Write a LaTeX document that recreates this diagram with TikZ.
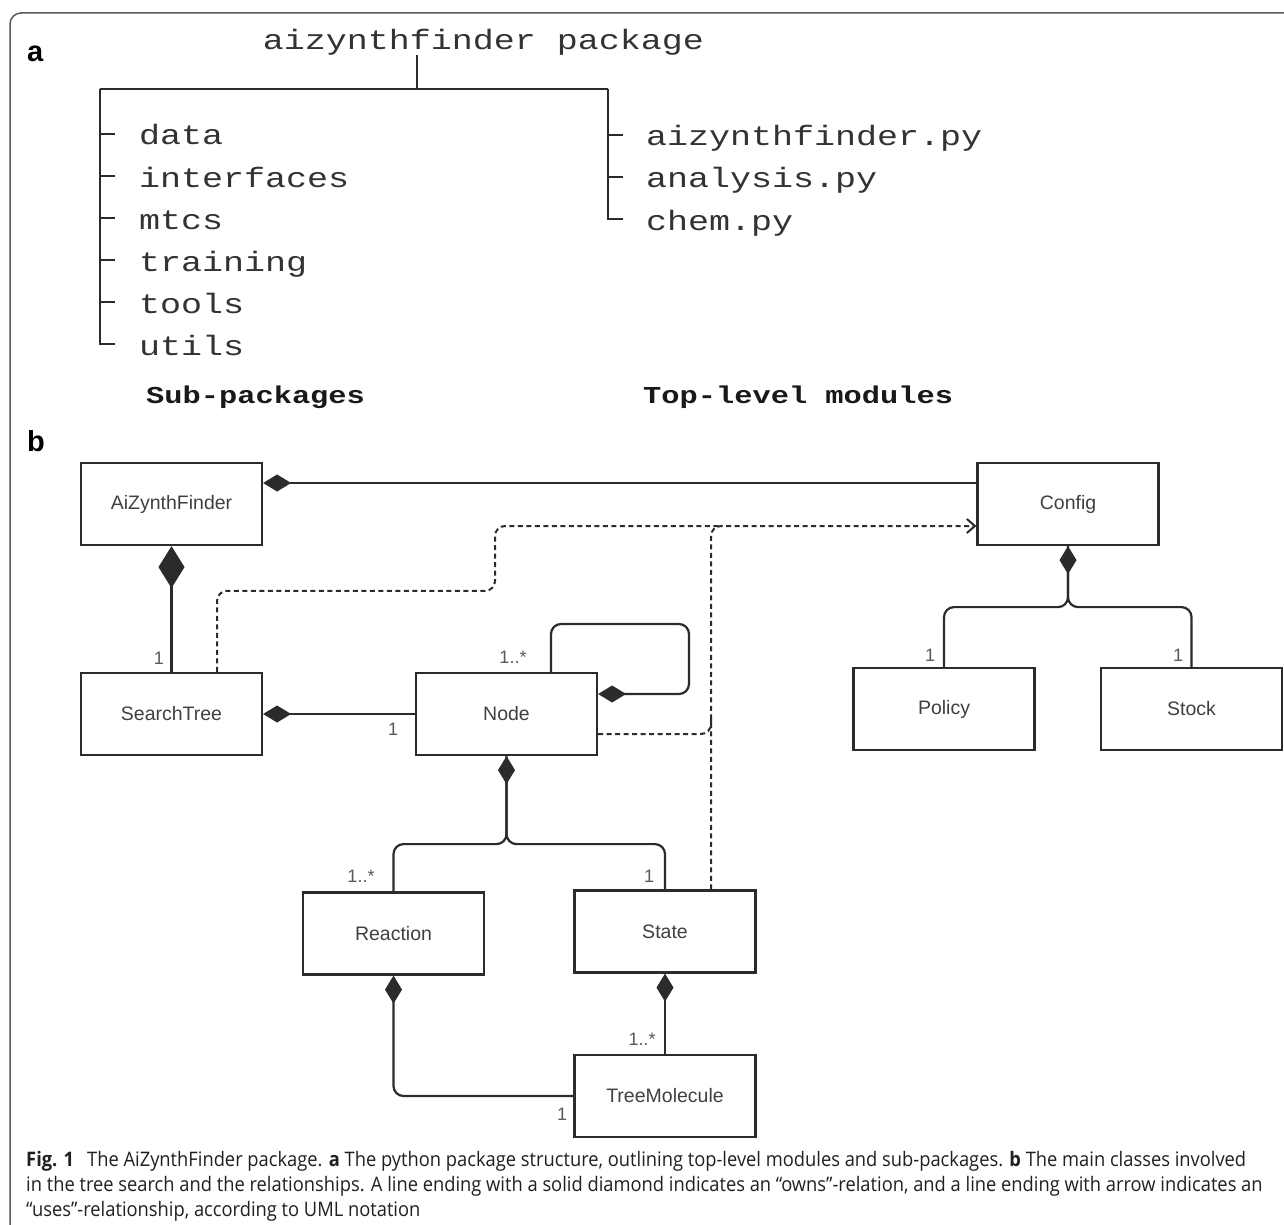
\documentclass[tikz,border=0pt]{standalone}
\usepackage{fontspec}
\usepackage{graphicx}
\setmainfont{Liberation Sans}
\newfontfamily\monof[FakeStretch=1.25]{Liberation Mono}
\newfontfamily\capf{Open Sans}
\usetikzlibrary{arrows.meta,calc}
\definecolor{ink}{HTML}{2B2B2B}
\definecolor{capcol}{HTML}{231F20}
\newsavebox\capboxA
\newcommand\capfont{\capf\fontsize{20}{24}\selectfont}
\newcommand\lineone{\textbf{Fig. 1}\hspace{0.45em} The AiZynthFinder package. \textbf{a} The python package structure, outlining top-level modules and sub-packages. \textbf{b} The main classes involved}
\makeatletter
\newcommand\setcapsc{\sbox\capboxA{\capfont\lineone}%
  \xdef\capsc{\strip@pt\dimexpr 1pt*\numexpr1220*65536\relax/\wd\capboxA\relax}}
\makeatother
\newcommand\capt[1]{\scalebox{\capsc}[1]{\capfont\color{capcol}#1}}
\begin{document}
\setcapsc
\begin{tikzpicture}[x=1pt,y=-1pt,
  umlbox/.style={draw=ink, line width=2.2pt, minimum width=181pt, minimum height=82pt, inner sep=0pt,
    font=\fontsize{19.5}{22}\selectfont, text=black!75},
  mult/.style={font=\fontsize{18}{20}\selectfont, text=black!65, inner sep=0pt},
  conn/.style={draw=ink, line width=2.2pt, rounded corners=10pt},
  own/.style={conn, {Diamond[length=28pt,width=17pt]}-},
  ownbig/.style={conn, {Diamond[length=42pt,width=26pt]}-},
  usesplain/.style={draw=ink, line width=2pt, dash pattern=on 5pt off 3.5pt, rounded corners=10pt},
  uses/.style={usesplain, -{Straight Barb[length=8pt,width=14pt]}},
  tree/.style={draw=ink, line width=2.4pt},
  mono/.style={font=\monof\fontsize{28}{30}\selectfont, text=black!80, inner sep=0pt, anchor=base west},
  monob/.style={font=\monof\bfseries\fontsize{24.3}{26}\selectfont, text=black!90, inner sep=0pt, anchor=base west},
  panel/.style={font=\bfseries\fontsize{29}{30}\selectfont, inner sep=0pt, anchor=base west},
  capline/.style={inner sep=0pt, anchor=base west}
]
\useasboundingbox (0,0) rectangle (1284,1225);
\fill[white] (0,0) rectangle (1284,1225);
% outer frame
\draw[line width=1.5pt, black!65, rounded corners=11pt] (10,1240) -- (10,13) -- (1300,13);

% ---------- panel a ----------
\node[panel] (la) at (27,62) {a};
\node[mono, anchor=base] (pkg) at (483.5,50) {aizynthfinder package};
\coordinate (jl) at (100,89);
\coordinate (jr) at (608,89);
\node[mono] (s1) at (139,145) {data};
\node[mono] (s2) at (139,187) {interfaces};
\node[mono] (s3) at (139,229) {mtcs};
\node[mono] (s4) at (139,271) {training};
\node[mono] (s5) at (139,313) {tools};
\node[mono] (s6) at (139,355) {utils};
\node[mono] (m1) at (646,146) {aizynthfinder.py};
\node[mono] (m2) at (646,188) {analysis.py};
\node[mono] (m3) at (646,230) {chem.py};
\draw[tree] (417,55) -- (417,89);
\draw[tree] (jl) -- (jr);
\draw[tree] (jl) -- (100,344) -- (115,344);
\foreach \y in {134,176,218,260,302} \draw[tree] (100,\y) -- (115,\y);
\draw[tree] (jr) -- (608,219) -- (623,219);
\foreach \y in {135,177} \draw[tree] (608,\y) -- (623,\y);
\node[monob] (subp) at (146,403) {Sub-packages};
\node[monob] (topm) at (643,403) {Top-level modules};

% ---------- panel b ----------
\node[panel] (lb) at (27,451) {b};
\node[umlbox] (AZF) at (171.5,504) {AiZynthFinder};
\node[umlbox] (Config) at (1068,504) {Config};
\node[umlbox] (ST) at (171.5,714) {SearchTree};
\node[umlbox] (Node) at (506.5,714) {Node};
\node[umlbox] (Policy) at (944,709) {Policy};
\node[umlbox] (Stock) at (1191.5,709) {Stock};
\node[umlbox] (Reaction) at (393.5,933.5) {Reaction};
\node[umlbox] (State) at (665,931.5) {State};
\node[umlbox] (TM) at (665,1096) {TreeMolecule};

% owns
\draw[own] ([yshift=21pt]AZF.east) -- ([yshift=21pt]Config.west);
\draw[ownbig] (AZF.south) -- (ST.north);
\draw[own] (ST.east) -- (Node.west);
\draw[own] ([yshift=20pt]Node.east) -| (689,624) -| ([xshift=44.5pt]Node.north);
\coordinate (cf) at ($(Config.south)+(0,61)$);
\draw[own] (Config.south) -- (cf) -| (Policy.north);
\draw[conn] (Config.south) -- (cf) -| (Stock.north);
\coordinate (nf) at ($(Node.south)+(0,88)$);
\draw[own] (Node.south) -- (nf) -| (Reaction.north);
\draw[conn] (Node.south) -- (nf) -| (State.north);
\draw[own] (Reaction.south) |- (TM.west);
\draw[own] (State.south) -- (TM.north);

% uses
\coordinate (merge) at (722,526);
\draw[usesplain] ([xshift=45.5pt]ST.north) -- ++(0,-81) -| (495,526) -- (merge);
\draw[usesplain] ([yshift=-20pt]Node.east) -| (711,719);
\draw[uses] ([xshift=46pt]State.north) |- ([yshift=-22pt]Config.west);

% multiplicities
\node[mult] at (159,658) {1};
\node[mult] at (393,729) {1};
\node[mult] at (513,657) {1..*};
\node[mult] at (930,655) {1};
\node[mult] at (1178,655) {1};
\node[mult] at (361,876) {1..*};
\node[mult] at (649,876) {1};
\node[mult] at (642,1039) {1..*};
\node[mult] at (562,1114) {1};

% caption
\node[capline] (cap1) at (26,1166) {\capt{\lineone}};
\node[capline] (cap2) at (26,1191) {\capt{in the tree search and the relationships. A line ending with a solid diamond indicates an “owns”-relation, and a line ending with arrow indicates an}};
\node[capline] (cap3) at (26,1216) {\capt{“uses”-relationship, according to UML notation}};
\end{tikzpicture}
\end{document}
